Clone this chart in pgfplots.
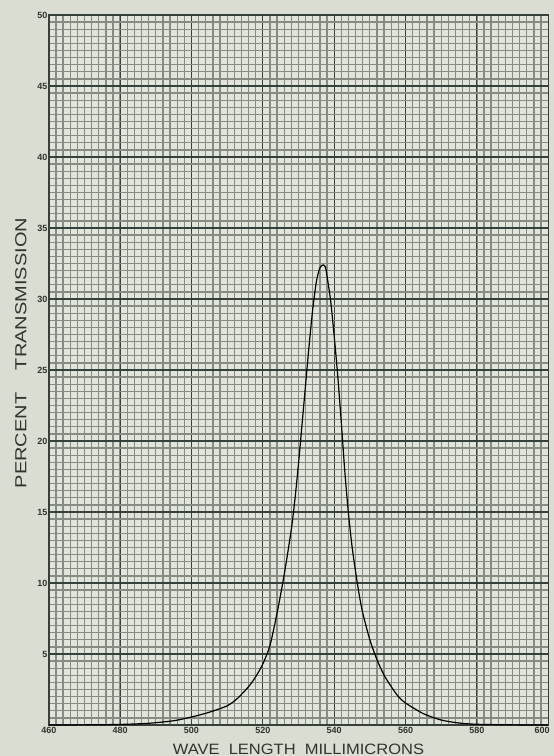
\documentclass[border=0pt]{standalone}
\usepackage{pgfplots}
\pgfplotsset{compat=1.18}
\usepackage{fontspec}
\setmainfont{Liberation Sans}
\definecolor{paper}{HTML}{DADDD1}
\definecolor{inner}{HTML}{E1E4DA}
\definecolor{minorg}{HTML}{868B83}
\definecolor{majorg}{HTML}{36403B}
\definecolor{ink}{HTML}{2E3530}
\begin{document}
\begin{tikzpicture}
\path[use as bounding box, fill=paper] (-48.8pt,-31pt) rectangle (505.2pt,725pt);
\begin{axis}[
  at={(0,0)}, anchor=south west,
  scale only axis,
  width=499.4pt, height=710pt,
  xmin=460, xmax=600, ymin=0, ymax=50,
  xtick={460,480,...,600},
  xticklabels={460,480,500,520,540,560,580,\hspace{-12pt}600},
  ytick={0,5,...,50},
  yticklabels={,5,10,15,20,25,30,35,40,45,50},
  minor xtick={460,462,...,600},
  minor ytick={0,0.5,...,50},
  grid=both,
  axis background/.style={fill=inner},
  minor grid style={draw=minorg, line width=1.3pt},
  major grid style={draw=majorg, line width=1.2pt},
  axis line style={draw=majorg, line width=1.4pt},
  tick style={draw=none},
  /pgf/number format/assume math mode=true,
  ticklabel style={font=\fontsize{9}{10}\selectfont\bfseries, text=ink},
  xticklabel style={yshift=1pt},
  yticklabel style={xshift=2pt},
  clip=false,
]
\addplot[black, line width=1.2pt, smooth, tension=0.45] coordinates {
(460,0.0) (470,0.01) (480,0.04) (488,0.12) (495,0.3) (500,0.56) (505,0.9)
(510,1.35) (513,1.9) (516,2.7) (518,3.4) (520,4.3) (522,5.6) (524,7.9)
(526,10.6) (528,13.8) (529,15.9) (530,18.4) (531,21.2) (532,24.0) (533,26.8)
(534,29.3) (535,31.2) (536,32.2) (537,32.4) (537.6,32.2) (538,31.6) (539,29.9)
(540,27.4) (541,24.6) (542,21.3) (543,17.8) (544,14.9) (545,12.6) (546,10.8)
(547,9.2) (548,7.9) (550,6.0) (552,4.6) (554,3.5) (556,2.7) (558,2.0)
(560,1.55) (565,0.8) (570,0.35) (575,0.14) (580,0.05) (590,0.01) (600,0.0)
};
\end{axis}
\node[text=ink, font=\fontsize{15}{17}\selectfont] at (249.7pt,-24pt)
  {\scalebox{1.1}[1]{WAVE\ \ LENGTH\ \ MILLIMICRONS}};
\node[text=ink, font=\fontsize{16}{18}\selectfont, rotate=90] at (-28pt,372pt)
  {\scalebox{1.25}[1]{PERCENT\hspace{18pt}TRANSMISSION}};
\end{tikzpicture}
\end{document}
